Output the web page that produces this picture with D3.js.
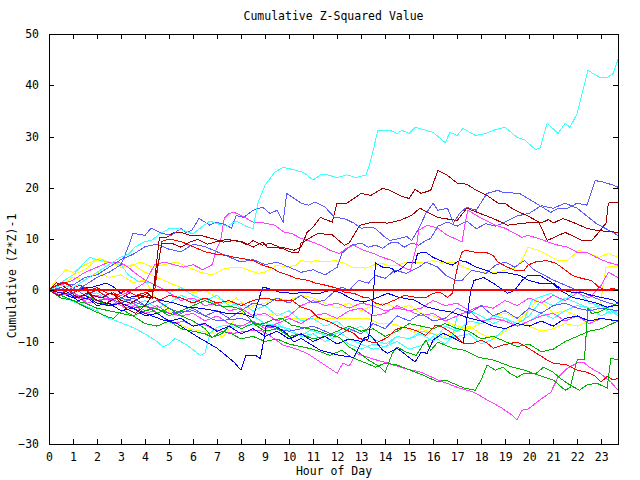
<!DOCTYPE html>
<html><head><meta charset="utf-8">
<script src="https://cdn.jsdelivr.net/npm/d3@7"></script>
<style>body{margin:0;background:#fff}svg text{font-family:"DejaVu Sans Mono",monospace;font-size:11.5px;fill:#000}</style>
</head><body><svg id="c" width="640" height="480"></svg>
<script>
// ---------- data: [hour, cumulative value] ----------
const xTicks = [0,1,2,3,4,5,6,7,8,9,10,11,12,13,14,15,16,17,18,19,20,21,22,23];
const yTicks = [-30, -20, -10, 0, 10, 20, 30, 40, 50];

const cyan1 = [[0,0],[0.5,1],[1,0.5],[1.5,2],[2,3.5],[2.5,5],[3,6.5],[3.3,7],[3.6,8.5],[4,9.5],[4.3,9.8],[4.6,11],[5,12],[5.4,12],[5.7,11.5],[6,11],[6.4,12.5],[6.7,13.5],[7,13],[7.4,12.5],[7.8,13.5],[8.2,12.5],[8.5,12],[8.7,17],[9,20.5],[9.4,23],[9.75,24],[10.2,23.5],[10.6,23],[11,21.5],[11.3,22.5],[11.6,22.5],[12,22],[12.4,22.5],[12.8,22],[13.2,22.5],[13.4,25.3],[13.7,31.2],[14.2,31.2],[14.5,30.6],[14.7,31.2],[15,30.6],[15.25,31.8],[16,30.8],[16.5,28.8],[16.7,30.8],[17,30.2],[17.25,31.6],[17.75,30.2],[18.2,30.6],[18.5,31.2],[19,31.8],[19.5,29.8],[19.8,29.4],[20.25,27.5],[20.45,27.7],[20.75,32.6],[21.2,30.6],[21.5,32.6],[21.7,31.8],[22,34.5],[22.45,42.9],[22.95,41.5],[23.25,41.5],[23.5,42.3],[23.7,45]];
const cyan2 = [[0,0],[0.5,-1],[1,-2.2],[1.5,-3],[2,-4],[2.4,-5.3],[2.7,-5.8],[3.25,-6.8],[3.6,-7.5],[4.1,-8.8],[4.5,-10],[4.75,-11.1],[5,-10.5],[5.25,-9.4],[5.75,-10.7],[6.3,-12.7],[6.5,-12.3],[6.7,-8.4],[7,-7.2],[7.4,-6.8],[7.7,-7.2],[8.25,-6.8],[8.8,-6.4],[9.1,-7.2],[9.5,-6.4],[9.9,-7.8],[10.2,-8.4],[10.5,-8.8],[10.9,-7.8],[11.3,-8.4],[11.7,-9],[12.1,-8.2],[12.5,-9.5],[13,-10.5],[13.5,-11.5],[14,-11],[14.5,-10],[15,-11.5],[15.5,-10.8],[16,-9],[16.5,-10.5],[16.8,-9],[17,-5],[17.5,-4],[18,-5],[18.5,-6.5],[19,-5.5],[19.5,-7],[20,-6],[20.5,-4.5],[21,-5.5],[21.5,-4],[22,-3],[22.5,-3.5],[23,-5],[23.4,-4],[23.7,-5]];
const cyan3 = [[0,0],[0.5,1.5],[1,3],[1.5,5.5],[1.7,6.4],[2,6],[2.5,5.5],[3,5],[3.3,3],[3.7,1.8],[4.2,1.5],[4.6,0.6],[5,-0.5],[5.5,0.5],[6,-1],[6.5,-2],[7,-1],[7.5,-3],[8,-2.5],[8.5,-4],[9,-3],[9.5,-5],[10,-4],[10.5,-6],[11,-5.5],[11.5,-7],[12,-6],[12.5,-8],[13,-7],[13.5,-9.5],[14,-10.5],[14.5,-9],[15,-9.5],[15.5,-8.5],[16,-10],[16.5,-7],[17,-8],[17.5,-6],[18,-6.5],[18.5,-5],[19,-5.5],[19.5,-6.5],[20,-5],[20.5,-2],[21,-3],[21.5,-1.5],[22,-2.5],[22.5,-3.5],[23,-3],[23.7,-4.5]];
const cyan4 = [[0,0],[0.5,-0.5],[1,0.5],[1.5,-1],[2,-0.5],[2.5,-2],[3,-1.5],[3.5,-3],[4,-2],[4.5,-3.5],[5,-2.5],[5.5,-1],[6,-2],[6.5,-1.5],[7,-3],[7.5,-2],[8,-3.5],[8.5,-5],[9,-6.5],[9.5,-7],[10,-7.5],[10.5,-9],[11,-8.5],[11.5,-10],[12,-9],[12.5,-10.5],[13,-11.5],[13.5,-10.5],[14,-11],[14.5,-9],[15,-9.5],[15.5,-8],[16,-8.5],[16.5,-9.5],[17,-9],[17.5,-8.5],[18,-10.5],[18.5,-9.5],[19,-7.5],[19.5,-6.5],[19.8,-5.8],[20.1,-2],[20.4,-1.4],[20.9,-0.6],[21.4,-2],[21.6,-1.4],[21.9,0],[22.2,-1],[22.5,-2.5],[23,-3],[23.4,-4.5],[23.7,-4]];
const darkRedA = [[0,0],[0.3,1.5],[0.7,0.5],[1,-0.5],[1.4,0.5],[1.8,-1],[2.2,-1.5],[2.6,-0.5],[3,-2],[3.4,-2.5],[3.8,-1.5],[4.1,-0.5],[4.3,-1.5],[4.45,4],[4.6,10.3],[4.9,10.3],[5.2,11.3],[5.5,11.3],[5.9,10.7],[6.3,10.7],[6.8,10.1],[7.25,9.4],[7.7,9.7],[8,9.4],[8.25,8.8],[8.5,9.7],[8.9,8.8],[9.2,9.2],[9.6,8.4],[9.9,8.2],[10.2,7.8],[10.5,8.4],[10.75,11.3],[11,12.3],[11.3,14.2],[11.8,13.3],[12,17],[12.4,17],[12.7,17.9],[13,18.9],[13.4,18.5],[13.9,19.9],[14.2,19.5],[14.6,18.5],[15,17.9],[15.25,19.7],[15.5,18.9],[15.9,19.5],[16.2,23.4],[16.6,22.4],[17,20.9],[17.4,20.7],[17.8,19.5],[18.25,18.5],[18.7,17],[19,17],[19.2,16.2],[19.6,15.2],[19.9,14.6],[20.5,13.1],[20.8,13.8],[21,13.1],[21.4,14],[21.8,13.3],[22.4,12.1],[22.8,11.7],[23.2,11.5],[23.7,11.3]];
const darkRedB = [[0,0],[0.4,-1],[0.8,0],[1.2,-1.5],[1.6,-0.5],[2,-2],[2.4,-2.5],[2.8,-1.5],[3.2,-3.5],[3.6,-4.5],[4,-3],[4.3,-1],[4.5,4],[4.7,9.2],[5.1,9.2],[5.5,8.4],[5.9,9.5],[6.2,9.9],[6.6,9],[7,9.5],[7.4,9.9],[7.75,9.7],[8.1,9.4],[8.5,8.4],[8.9,9.4],[9.1,8.4],[9.7,8.2],[10.1,7.4],[10.4,7.4],[10.5,9.2],[11.2,11.1],[11.8,10.8],[12.3,8.8],[12.5,9.2],[12.95,12.7],[13.5,13.3],[14.1,13.1],[14.6,13.6],[15.1,14.6],[15.45,16],[16.2,14.2],[17,13.6],[17.4,16],[18.5,14],[19.1,12.7],[19.8,13.1],[20.4,13.3],[20.75,9.7],[21.5,11.3],[22.2,9.7],[22.6,9.7],[22.9,11.3],[23.2,13.1],[23.3,17],[23.7,17.2]];
const medBlue1 = [[0,0],[0.5,0.5],[1,-0.5],[1.5,1],[2,2.5],[2.5,3.5],[3,5],[3.4,9.7],[3.5,11.1],[4,10.7],[4.25,12.1],[4.7,11.1],[5.1,10.7],[5.5,12.1],[5.7,11.3],[5.95,11.7],[6.25,14],[6.7,12.7],[6.95,13.3],[7.4,12.7],[7.6,12.1],[7.8,14.6],[8.1,14.2],[8.5,15.6],[8.9,16.2],[9.2,15],[9.5,15.6],[9.75,13.3],[9.9,18.9],[10.5,17],[10.8,16.6],[11.1,17.2],[11.5,16.2],[11.9,14.2],[12.3,14],[12.7,13.1],[13,12.1],[13.3,12.3],[13.6,12.1],[13.9,10.7],[14.2,9.7],[14.6,10.1],[14.9,10.5],[15.1,9.7],[15.4,12],[15.7,15],[16,17],[16.2,15.6],[16.6,16],[16.85,13.1],[17.1,15],[17.4,16.2],[17.8,15.6],[18.1,17.9],[18.25,18.9],[18.7,19.5],[18.9,19.1],[19.6,18.9],[20.2,17.2],[20.9,15.2],[21.2,16],[21.6,16],[22,17],[22.4,16.6],[22.75,21.4],[23.1,21.1],[23.5,20.5],[23.7,20.1]];
const medBlue2 = [[0,0],[0.5,1.5],[1,1],[1.5,2.5],[2,3],[2.5,4.5],[3,6],[3.5,7],[4,8.5],[4.5,9],[5,8],[5.5,7.5],[6,9],[6.5,8.5],[7,7.5],[7.5,6.5],[8,5.5],[8.5,6],[9,5],[9.5,5.5],[10,4.5],[10.5,3.5],[11,4],[11.5,3],[12,4.5],[12.2,7.2],[12.6,8.8],[13,9.2],[13.3,8.4],[13.6,8.8],[13.9,8.2],[14.2,9.2],[14.5,9.4],[14.8,8.4],[15.1,9.2],[15.4,8.8],[15.7,9.7],[15.9,10.1],[16.2,12.5],[16.6,13.3],[17,12.5],[17.4,13.5],[17.8,12],[18.2,13],[18.6,12.5],[19,13.3],[19.5,14.5],[20,15],[20.5,16.5],[21,16],[21.5,17],[22,16],[22.4,14.5],[22.8,13],[23.2,12],[23.7,10.7]];
const medBlue3 = [[0,0],[0.5,-0.5],[1,0.5],[1.5,-1],[2,0],[2.5,-1.5],[3,-2.5],[3.5,-1.5],[4,-3],[4.5,-2],[5,-3.5],[5.5,-4.5],[6,-3.5],[6.5,-5],[7,-4],[7.5,-5.5],[8,-4],[8.5,-2.5],[9,-3],[9.5,-1.5],[10,-2.5],[10.5,-1],[11,-2.5],[11.5,-1.9],[11.8,-0.6],[12.2,0.6],[12.5,0],[12.9,1.9],[13.3,1.4],[13.6,2.9],[14,2.3],[14.4,3.9],[14.9,3.3],[15.4,4.5],[15.7,5.5],[16.2,4.5],[16.5,3],[16.9,2],[17.2,1.9],[17.6,3.9],[18.2,3.3],[18.6,4.9],[19,5.5],[19.4,4.5],[19.8,5.8],[20.2,4],[20.6,3],[21,2],[21.5,1],[22,0],[22.5,-1],[23,-2],[23.7,-3]];
const medBlue4 = [[0,0],[1,-1],[2,-2],[3,-1.5],[4,-3],[5,-4.5],[6,-4],[7,-6],[8,-5.5],[9,-7],[10,-8],[11,-7],[12,-9],[12.5,-7.5],[13,-8.5],[13.5,-6.5],[14,-7.5],[14.5,-5],[15,-6],[15.5,-4.5],[16,-6],[16.5,-5.5],[17,-3.5],[17.5,-4.5],[18,-3],[18.5,-5],[19,-4],[19.5,-5.5],[20,-3.5],[20.5,-4.5],[21,-3],[21.5,-2.5],[22,-3.5],[22.5,-4],[23,-3.5],[23.7,-4]];
const blue1 = [[0,0],[0.5,-0.5],[1,-1.5],[1.5,-1],[2,-2.5],[2.5,-3],[3,-2.5],[3.5,-3.5],[4,-4.5],[4.75,-5.8],[5.3,-6.4],[5.75,-7.8],[6.3,-9.4],[7,-11.3],[7.7,-14],[8,-15.6],[8.2,-12.7],[8.6,-12.7],[8.8,-13.3],[8.95,-9.7],[9.05,-6.8],[9.5,-7.2],[9.9,-8.4],[10.2,-10.1],[10.5,-9.4],[11.3,-11.7],[12.1,-12.7],[12.7,-13.1],[13.1,-9.4],[13.4,-8.8],[13.9,-11.7],[14.1,-12.3],[14.5,-11.3],[15.25,-14],[15.5,-12.1],[15.75,-12.3],[16,-9.7],[16.4,-8.4],[16.8,-9.2],[17.25,-10.3],[17.4,-5.8],[17.55,-0.6],[17.7,1.9],[18.1,2.5],[18.5,1.4],[19.1,-0.6],[19.4,0],[19.7,1.9],[19.95,2.9],[20.45,2.9],[20.9,1.6],[21.3,0],[21.8,-1.4],[22.3,-1.9],[22.8,-2.5],[23.25,-3.3],[23.7,-2.9]];
const blue2 = [[0,0],[0.4,-1],[0.8,-0.5],[1.2,-2],[1.6,-1.5],[2,-3],[2.5,-2.5],[3,-4],[3.5,-3.5],[4,-5],[4.5,-4.5],[5,-6],[5.5,-5.5],[6,-7],[6.5,-6.5],[7,-8],[7.5,-7],[8,-8.5],[8.5,-7.5],[9,-9],[9.5,-8],[10,-9.5],[10.5,-8.5],[11,-10],[11.5,-9],[12,-10.5],[12.5,-9.5],[13,-10],[13.3,-9.5],[13.45,-5],[13.6,5.3],[13.9,4.5],[14.3,4.3],[14.4,3.5],[14.7,4.3],[14.95,5.5],[15.25,5.3],[15.35,7.2],[15.7,7.4],[16,6.4],[16.3,5.8],[16.55,5.3],[16.8,4.9],[17.1,5.8],[17.4,5.5],[17.8,4.5],[18.2,3.9],[18.5,3.3],[19,3.5],[19.6,2.9],[20,1.9],[20.4,1.4],[21,1.4],[21.4,0],[21.8,-0.4],[22.2,-0.4],[22.6,-1],[23,-1.4],[23.5,-1.9],[23.7,-2.5]];
const blue3 = [[0,0],[0.5,0.5],[1,-0.5],[1.5,0.5],[1.8,0.6],[2.1,1],[2.4,1.4],[2.7,0.6],[3,-0.6],[3.3,-1.4],[3.8,-1],[4.1,-1.4],[4.4,-1.4],[4.6,-1.9],[5.2,-2.5],[5.75,-3.3],[6.3,-3.5],[6.8,-3.9],[7.4,-4.5],[8,-4.5],[8.5,-5.3],[8.9,0.6],[9.1,0.4],[9.6,-0.4],[10.2,-0.6],[10.75,-0.4],[11,-0.6],[11.3,-0.6],[11.7,0],[12.1,-0.4],[12.7,-1.9],[13.1,-2.3],[13.7,-1.4],[14.1,-0.6],[14.6,-1.4],[15.2,-1.9],[15.75,-3.3],[16.3,-3.9],[16.8,-4.3],[17.4,-5.3],[18,-6],[18.5,-7],[19,-7.5],[19.5,-6.5],[20,-7],[20.5,-6],[21,-7],[21.5,-5.5],[22,-5],[22.5,-6],[23,-5.5],[23.7,-6]];
const magenta1 = [[0,0],[0.4,-1],[0.8,-0.5],[1.2,-1.5],[1.6,-2.5],[2,-2],[2.4,-3],[2.8,-2.5],[3.2,-3.5],[3.6,-3],[4,-4.5],[4.4,-4],[4.8,-5.5],[5.2,-6.5],[5.6,-6],[6,-7],[6.4,-6.5],[6.8,-7.5],[7.2,-8],[7.7,-8.4],[8.2,-8],[8.8,-7.8],[9.25,-9],[9.75,-10.7],[10.2,-11.3],[10.75,-12.3],[11.3,-14],[12,-16.2],[12.25,-14.2],[12.5,-14.8],[12.8,-12.3],[13.4,-13.3],[14.1,-14.2],[14.75,-15.2],[15.5,-16],[16.2,-17.5],[17.1,-19.1],[17.7,-19.9],[18.25,-21.4],[18.8,-22.8],[19.3,-24.4],[19.5,-25.3],[19.7,-23.4],[19.95,-23.2],[20.45,-21.4],[20.9,-19.9],[21.2,-17],[21.6,-15.2],[22,-14.2],[22.25,-14],[22.5,-15],[22.95,-16.2],[23.4,-17.9],[23.7,-19.5]];
const magenta2 = [[0,0],[0.5,-1],[1,-0.5],[1.5,-2],[2,-1],[2.5,-2],[3,-1],[3.5,0],[4,1.5],[4.4,5],[4.8,5.5],[5.2,5],[5.6,4.5],[6,5],[6.4,4],[6.8,5],[6.95,7.8],[7.15,9.7],[7.3,14],[7.5,15],[7.7,15.2],[8,14.6],[8.5,13.3],[9,13.1],[9.4,12.7],[9.8,11.3],[10.1,11.1],[10.5,10.1],[10.8,9.7],[11.3,8.8],[11.7,7.8],[12.1,7.2],[12.4,8.2],[12.7,8.8],[13.1,7.8],[13.5,7.2],[13.9,6.4],[14.3,5.8],[14.75,4.5],[15.05,3.9],[15.3,8.4],[15.4,11.7],[15.75,12.7],[16.2,12.1],[16.6,10.7],[17,9.9],[17.2,9.4],[17.35,13.6],[17.45,15.6],[17.8,14.6],[18.2,13.6],[18.6,12.7],[19,12.1],[19.4,11.1],[19.7,10.3],[19.95,10.7],[20.4,10.1],[20.8,9.4],[21.2,8.8],[21.6,8.4],[22,7.4],[22.4,7.4],[22.8,6.4],[23.25,5.5],[23.7,4.9]];
const magenta3 = [[0,0],[0.5,1],[1,2],[1.5,3.5],[2,4.5],[2.5,5.5],[3,5.3],[3.3,4.5],[3.6,3.3],[4,2],[4.6,0.6],[5,-0.5],[5.5,-2],[6,-1.5],[6.5,-3],[7,-2.5],[7.5,-4],[8,-3.5],[8.5,-5],[9,-4.5],[9.5,-6],[10,-5],[10.5,-3],[11,-2],[11.5,-3],[12,-2.5],[12.5,-3.5],[13,-2.5],[13.5,-3],[14,-4],[14.5,-3.5],[15,-4],[15.5,-5],[16,-4.5],[16.5,-6],[17,-5],[17.5,-4],[18,-6],[18.5,-5.5],[19,-6],[19.5,-7],[20,-6],[20.5,-5],[21,-4.5],[21.5,-6],[22,-5],[22.5,-6.5],[23,-5.5],[23.7,-6]];
const magenta4 = [[0,0],[0.5,-1],[1,-0.5],[1.5,-1.5],[2,-2],[2.5,-1.5],[3,-3],[3.5,-2.5],[4,-4],[4.5,-3],[5,-4.5],[5.5,-5],[6,-4.5],[6.5,-6],[7,-5],[7.5,-6.5],[8,-7],[8.5,-6],[9,-7.5],[9.5,-6.5],[10,-5.5],[10.5,-6.5],[11,-5],[11.5,-4.5],[12,-5.5],[12.5,-4],[13,-3.5],[13.5,-5],[14,-4.5],[14.5,-3],[15,-4],[15.5,-3.5],[16,-2],[16.5,-3],[17,-2.5],[17.5,-4],[18,-3],[18.5,-3.5],[19,-2],[19.5,-3],[20,-1.5],[20.5,-2.5],[21,-1],[21.5,-2],[22,-0.5],[22.5,-1.5],[23,1],[23.3,3.5],[23.7,2.5]];
const yellow1 = [[0,0],[0.3,2],[0.7,4],[1,3.5],[1.5,5],[2.1,6.2],[2.5,5.5],[3,4.5],[3.5,5],[4,3.5],[4.5,2.5],[5,1.5],[5.5,0.5],[6,-0.5],[6.5,0],[7,-1.5],[7.5,-2.5],[7.8,-1.5],[8.2,-3],[8.6,-4.5],[9,-5],[9.5,-4.5],[10,-5.5],[11,-5.5],[12,-5.5],[13,-5.5],[13.3,-5.5],[13.7,-6.4],[14.1,-6.4],[14.5,-6.8],[14.8,-7.4],[15.2,-8.2],[15.5,-7.5],[16,-8.5],[16.5,-9],[17,-8],[17.5,-7],[18,-8.5],[18.5,-9.5],[19,-8],[19.5,-6],[20,-4],[20.3,-2],[20.7,-3],[21,-4.5],[21.5,-4],[22,-5],[22.5,-6],[23,-5.5],[23.7,-6]];
const yellow2 = [[0,0],[0.5,1.5],[1,3],[1.5,4],[2,6],[2.3,5.5],[2.8,5],[3.3,4.5],[3.8,5.5],[4.3,4.5],[4.8,5],[5.3,5.5],[5.8,4.5],[6.3,3.5],[6.8,3],[7.3,4.2],[7.7,4.5],[8,4.5],[8.3,3.9],[8.7,3.3],[9,3.5],[9.5,4.9],[9.9,4.5],[10.3,4.9],[10.5,5.8],[10.9,5.5],[11.1,5.8],[11.5,5.5],[11.9,5.8],[12.3,5.3],[12.6,4.5],[12.9,4.5],[13.2,4.3],[13.5,4.9],[13.8,5.3],[14.1,4.9],[14.5,4.9],[14.9,5.5],[15.3,5.5],[15.6,5.3],[16,5.8],[16.4,5.3],[16.8,5.5],[17.1,4.9],[17.6,3.9],[18,3.5],[18.4,3.3],[18.6,3.5],[19,3.9],[19.4,4.3],[19.7,5.8],[19.95,8.4],[20.4,7.8],[20.8,6.8],[21.2,5.8],[21.6,5.8],[22.05,7.8],[22.5,7.2],[22.9,6.4],[23.3,7.2],[23.7,6.4]];
const yellow3 = [[0,0],[0.5,1],[1,2.5],[1.5,2],[2,3.5],[2.5,2.5],[3,3],[3.5,1.5],[4,2],[4.5,-2],[5,-4],[5.5,-6.8],[5.8,-7.4],[6.1,-7.8],[6.6,-8.2],[6.9,-8.4],[7.2,-9.2],[7.4,-8.4],[7.7,-5.8],[8,-4.5],[8.5,-3],[9,-2.5],[9.5,-1.5],[10,-2],[10.5,-1],[11,-1.5],[11.5,-2.5],[12,-3.5],[12.5,-2.5],[13,-4],[13.5,-3],[14,-2.5],[14.5,-3.5],[15,-3],[15.5,-4.5],[16,-5],[16.5,-6],[17,-7],[17.5,-7.5],[18,-6.5],[18.5,-5],[19,-4.5],[19.5,-5.5],[20,-7],[20.5,-8],[21,-7.5],[21.5,-6.5],[22,-7],[22.5,-6],[22.8,-5.8],[23,-1.5],[23.2,4.5],[23.7,4.7]];
const red1 = [[0,0],[0.3,0.8],[0.6,1.5],[1,0.5],[1.3,1],[1.7,0],[2,0.5],[2.4,-0.5],[2.8,-1],[3.2,0],[3.6,-1],[4,-0.5],[4.4,0],[4.55,5],[4.7,9.5],[5,10],[5.5,9.5],[6,8.5],[6.5,7.5],[7,7],[7.4,6.8],[7.75,6.4],[8.05,6.2],[8.5,5.8],[8.9,4.9],[9.3,4.3],[9.6,3.5],[10,2.9],[10.3,2.3],[10.6,2.1],[10.8,1.9],[11.1,1.4],[11.5,1],[12,0.4],[12.3,-0.4],[12.7,-0.6],[13.1,-1.4],[13.3,-1.4],[13.6,-2.5],[13.9,-2.9],[14.4,-1.9],[14.8,-1],[15.3,-1.4],[15.7,-1.4],[16,-0.6],[16.3,-0.4],[16.6,-1.4],[16.8,-0.6],[16.9,1.9],[17.05,5.3],[17.2,7.4],[17.35,7.8],[17.75,7.4],[18.2,7.4],[18.5,6.8],[18.7,5.5],[19.1,4.5],[19.4,3.9],[19.8,3.9],[19.95,4.9],[20.25,5.5],[20.7,5.8],[21.1,5.3],[21.4,4.3],[21.8,2.9],[22.2,2.3],[22.6,1.9],[22.9,0.6],[23.2,0],[23.5,0.4],[23.7,0]];
const red2 = [[0,0],[0.3,1],[0.7,1.5],[1,0.5],[1.3,1],[1.7,-0.5],[2,0],[2.3,-1],[2.7,-0.5],[3,-1.5],[3.4,-0.5],[3.8,-1.5],[4.2,-1],[4.6,-2],[5,-1],[5.5,-1.5],[6,-2.5],[6.5,-1.5],[7,-2.5],[7.5,-2],[8,-3],[8.5,-2],[9,-1.5],[9.5,-2],[10.1,-1.9],[10.5,-3.3],[10.9,-3.9],[11.2,-5.3],[11.5,-5.8],[11.8,-6.4],[12.1,-7.2],[12.4,-7.8],[12.7,-8.4],[12.9,-9.4],[13.2,-9.7],[13.5,-10.3],[13.7,-10.1],[13.9,-9.7],[14.1,-9.2],[14.4,-7.8],[14.7,-7.2],[14.95,-7.4],[15.25,-7.8],[15.7,-8.8],[16.1,-6.8],[16.4,-7.2],[16.8,-8.4],[17.25,-10.3],[17.7,-10.3],[18,-9.7],[18.25,-10.3],[18.5,-11.3],[18.9,-10.7],[19.5,-10.1],[19.9,-11.1],[20.3,-12.3],[20.75,-13.6],[21,-14.2],[21.6,-14.6],[22,-15.6],[22.4,-16],[22.7,-16.6],[23,-17.9],[23.25,-16.8],[23.5,-17.5],[23.7,-17.2]];
const green1 = [[0,0],[0.5,-1],[1,-2],[1.5,-2.5],[2,-3.5],[2.5,-4],[3,-4.5],[3.5,-5],[4,-4],[4.5,-3.5],[5,-5],[5.5,-4],[6,-3],[6.5,-2],[7,-3],[7.75,-3.3],[8.05,-3.9],[8.3,-5.3],[8.6,-6.8],[9,-6.4],[9.3,-5.8],[9.7,-5.5],[10.1,-6.8],[10.5,-7.2],[11.1,-7.8],[11.5,-8.4],[11.7,-8.8],[12.1,-9.2],[12.5,-11.1],[12.9,-12.1],[13.3,-13.6],[13.8,-15],[14,-16],[14.3,-12.3],[14.5,-11.1],[14.9,-12.1],[15.3,-12.7],[15.7,-9.7],[15.9,-11.7],[16.2,-10.1],[16.8,-11.3],[17.3,-11.7],[17.9,-13.1],[18.5,-13.6],[19.3,-15],[19.8,-15.6],[20.4,-16.6],[21,-17.5],[21.5,-19.5],[21.7,-19],[22,-13.6],[22.3,-13.6],[22.45,-3.5],[22.6,-4.5],[22.9,-4.3],[23.2,-3.5],[23.5,-2.9],[23.7,-2.5]];
const green2 = [[0,0],[0.5,-1.5],[1,-2],[1.4,-3],[1.8,-3.9],[2.1,-4.5],[2.5,-5.3],[2.7,-5.5],[2.9,-4.5],[3.1,-3.9],[3.5,-5],[4,-6.5],[4.5,-7],[5,-6],[5.5,-7.5],[6,-8],[6.5,-8.5],[6.8,-9.2],[7.2,-8],[7.6,-8.5],[8,-9.5],[8.5,-9],[9,-10],[9.5,-9.5],[10,-10.5],[10.5,-11],[11,-11.5],[11.3,-12],[11.7,-12.7],[12.2,-11.7],[12.6,-13.1],[13.2,-14.2],[13.6,-15],[14,-14.2],[14.5,-14.6],[15.05,-15.6],[15.6,-16.6],[16.2,-17.9],[16.5,-17.5],[16.8,-18.1],[17.3,-19.1],[17.75,-19.5],[18,-17.5],[18.25,-14.6],[18.6,-15.6],[18.9,-15],[19.2,-16.2],[19.5,-17],[19.8,-16.2],[20.3,-16.2],[20.6,-15],[21,-16],[21.3,-17.2],[21.7,-18.5],[22.1,-19.5],[22.4,-18.5],[22.8,-18.1],[23.25,-19.1],[23.4,-13.3],[23.7,-13.6]];
const green3 = [[0,0],[0.5,-0.5],[1,-1.5],[1.5,-1],[2,-2],[2.5,-3],[3,-2.5],[3.5,-3.5],[4,-3],[4.5,-4.5],[5,-3.5],[5.5,-5],[6,-6],[6.5,-7.5],[6.8,-9.2],[7.2,-8.5],[7.6,-6.5],[8,-7.5],[8.5,-6.5],[9,-8],[9.5,-7.5],[10,-9],[10.5,-8.5],[11,-9.5],[11.5,-9],[12,-8],[12.5,-7],[13,-8],[13.5,-7.5],[14,-9],[14.5,-8],[15,-6.5],[15.5,-7],[16,-7.5],[16.5,-6.5],[17,-7.5],[17.5,-8],[18,-9.5],[18.5,-9],[19,-10],[19.5,-11],[20,-10.5],[20.5,-12],[21,-11.5],[21.5,-10],[22,-9],[22.5,-8],[23,-7.5],[23.7,-6]];

const seriesData = [yellow1, yellow2, yellow3, cyan3, cyan4, cyan2, magenta3, magenta4, magenta1, medBlue3, medBlue4, medBlue2, green3, green2, green1, blue3, blue2, blue1, magenta2, red2, red1, darkRedB, darkRedA, medBlue1, cyan1];
const seriesColors = ["#ffff00","#ffff00","#ffff00","#40ffff","#40ffff","#40ffff","#ff40ff","#ff40ff","#ff40ff","#5a5aff","#5a5aff","#5a5aff","#00b000","#00b000","#00b000","#0000ff","#0000ff","#0000ff","#ff40ff","#ff0000","#ff0000","#a00000","#a00000","#5a5aff","#40ffff"];

// ---------- drawing ----------
(function(){
const svg = d3.select("#c");
svg.append("rect").attr("width",640).attr("height",480).attr("fill","#fff");
const L=49, R=618, T=34, B=444;
const x = d3.scaleLinear().domain([0,23.7]).range([L,R]);
const y = d3.scaleLinear().domain([-30,50]).range([B,T]);

const line = d3.line().x(d=>x(d[0])).y(d=>y(d[1]));
const g = svg.append("g");
seriesData.forEach((s,i)=>{
  g.append("path").attr("d",line(s)).attr("fill","none").attr("stroke",seriesColors[i])
   .attr("stroke-width",1).attr("shape-rendering","crispEdges");
});
svg.append("line").attr("x1",L).attr("x2",R).attr("y1",y(0)).attr("y2",y(0))
  .attr("stroke","#ff0000").attr("stroke-width",2).attr("shape-rendering","crispEdges");

const tk = 5;
const axB = d3.axisBottom(x).tickValues(xTicks).tickSize(-tk).tickPadding(9).tickFormat(d3.format("d"));
const axT = d3.axisTop(x).tickValues(xTicks).tickSize(-tk).tickFormat("");
const axL = d3.axisLeft(y).tickValues(yTicks).tickSize(-tk).tickPadding(10).tickFormat(d3.format("d"));
const axR = d3.axisRight(y).tickValues(yTicks).tickSize(-tk).tickFormat("");
function styleAxis(sel){
  sel.selectAll(".domain").remove();
  sel.selectAll("line").attr("stroke","#000").attr("shape-rendering","crispEdges");
  sel.selectAll("text").attr("font-family","DejaVu Sans Mono").attr("font-size","11.5px").attr("fill","#000");
}
svg.append("g").attr("transform",`translate(0,${B})`).call(axB).call(styleAxis);
svg.append("g").attr("transform",`translate(0,${T})`).call(axT).call(styleAxis);
svg.append("g").attr("transform",`translate(${L},0)`).call(axL).call(styleAxis);
svg.append("g").attr("transform",`translate(${R},0)`).call(axR).call(styleAxis);
svg.append("rect").attr("x",L+0.5).attr("y",T+0.5).attr("width",R-L).attr("height",B-T)
  .attr("fill","none").attr("stroke","#000").attr("stroke-width",1);

svg.append("text").attr("x",333.5).attr("y",20).attr("text-anchor","middle").text("Cumulative Z-Squared Value");
svg.append("text").attr("x",334).attr("y",475).attr("text-anchor","middle").text("Hour of Day");
svg.append("text").attr("transform","translate(16,276) rotate(-90)").attr("text-anchor","middle").text("Cumulative (Z*Z)-1");
})();
</script></body></html>
